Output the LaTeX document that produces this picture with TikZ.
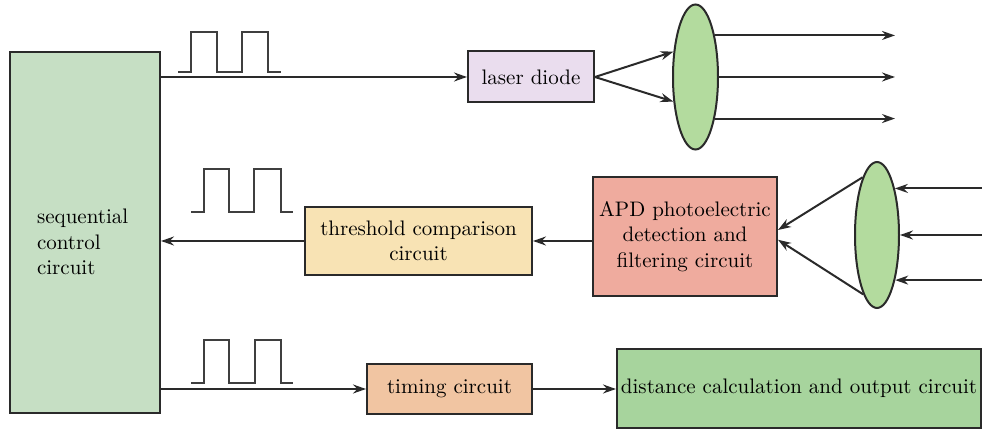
\documentclass[tikz,border=0pt]{standalone}
\usepackage{xcolor}
\usepackage{tikz}
\usetikzlibrary{shapes.geometric, arrows.meta, positioning, calc}

\definecolor{seqgreen}{HTML}{C6DFC4}
\definecolor{lasepink}{HTML}{EADDEE}
\definecolor{lensgreen}{HTML}{B3DB9E}
\definecolor{thryellow}{HTML}{F8E3B4}
\definecolor{apdred}{HTML}{EFAB9E}
\definecolor{timeorange}{HTML}{F1C5A2}
\definecolor{distgreen}{HTML}{A7D49D}
\definecolor{linegray}{HTML}{2A2A2A}

\begin{document}
\begin{tikzpicture}[
  x=0.5pt, y=-0.5pt,
  font=\fontsize{10.5pt}{12.7pt}\selectfont,
  box/.style={draw=linegray, line width=1pt, align=center, inner sep=2pt},
  lens/.style={ellipse, draw=linegray, line width=1pt, fill=lensgreen,
               minimum width=22.5pt, minimum height=72.5pt, inner sep=0pt},
  arr/.style={-{Stealth[length=6.5pt, width=4.5pt]}, line width=1pt, linegray},
  wave/.style={line width=0.8pt, linegray!90}
]
\useasboundingbox (0,0) rectangle (982,433);

\node[box, fill=seqgreen, minimum width=75pt, minimum height=180.5pt] (seq) at (85,232.5) {};
\node[anchor=west, align=left] (seqtext) at (30,242) {sequential\\control\\circuit};

\node[box, fill=lasepink, minimum width=63pt, minimum height=25.5pt] (laser) at (531,77) {laser diode};
\node[lens] (lens1) at (695.5,77) {};

\node[box, fill=thryellow, minimum width=113.5pt, minimum height=34pt] (thr) at (418.5,241) {threshold comparison\\circuit};
\node[box, fill=apdred, minimum width=92pt, minimum height=59.5pt] (apd) at (685,236.5) {APD photoelectric\\detection and\\filtering circuit};
\node[lens, minimum width=22pt, minimum height=73pt] (lens2) at (877,235) {};

\node[box, fill=timeorange, minimum width=82.5pt, minimum height=25pt] (timing) at (449.5,389) {timing circuit};
\node[box, fill=distgreen, minimum width=182pt, minimum height=39.5pt] (dist) at (799,388.5) {distance calculation and output circuit};

%% free ends of the beams
\coordinate (outrail) at (895,0);
\coordinate (inrail) at (982,0);

%% Top row: emit
\draw[arr] (laser.west -| seq.east) -- (laser.west);
\draw[arr] (laser.east) -- (lens1.131.5);
\draw[arr] (laser.east) -- (lens1.228.5);
\draw[arr] (lens1.65) -- (lens1.65 -| outrail);
\draw[arr] (lens1.east) -- (lens1.east -| outrail);
\draw[arr] (lens1.295) -- (lens1.295 -| outrail);

%% Middle row: receive
\draw[arr] (lens2.69 -| inrail) -- (lens2.69);
\draw[arr] (lens2.east -| inrail) -- (lens2.east);
\draw[arr] (lens2.292.5 -| inrail) -- (lens2.292.5);
\draw[arr] (lens2.104) -- (apd.4);
\draw[arr] (lens2.257) -- (apd.-2);
\draw[arr] (thr.east -| apd.west) -- (thr.east);
\draw[arr] (thr.west) -- (thr.west -| seq.east);

%% Bottom row: timing
\draw[arr] (timing.west -| seq.east) -- (timing.west);
\draw[arr] (timing.east) -- (timing.east -| dist.west);

%% Pulse trains
\draw[wave] (178,72) -- ++(13,0) -- ++(0,-40) -- ++(26,0) -- ++(0,40)
  -- ++(25,0) -- ++(0,-40) -- ++(26,0) -- ++(0,40) -- ++(13,0);
\draw[wave] (191,212) -- ++(13,0) -- ++(0,-43) -- ++(25,0) -- ++(0,43)
  -- ++(25,0) -- ++(0,-43) -- ++(27,0) -- ++(0,43) -- ++(12,0);
\draw[wave] (191,383) -- ++(13,0) -- ++(0,-43) -- ++(25,0) -- ++(0,43)
  -- ++(26,0) -- ++(0,-43) -- ++(26,0) -- ++(0,43) -- ++(12,0);
\end{tikzpicture}
\end{document}
